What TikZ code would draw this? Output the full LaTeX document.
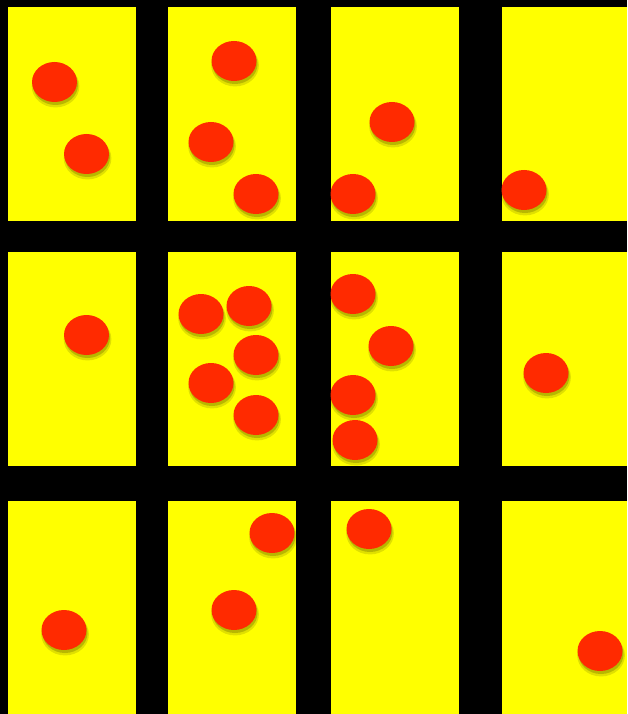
\documentclass[tikz,border=0pt]{standalone}
\usepackage{tikz}
\usetikzlibrary{shapes.geometric,shadows}
\definecolor{cardyellow}{RGB}{255,255,0}
\definecolor{ballred}{RGB}{255,42,0}

\begin{document}
\begin{tikzpicture}[x=1pt,y=-1pt,
    card/.style={fill=cardyellow},
    ball/.style={ellipse, fill=ballred, minimum width=45pt, minimum height=40pt, inner sep=0pt,
        general shadow={shadow xshift=1pt, shadow yshift=-4pt, shadow scale=1.06, opacity=0.12, fill=black},
        general shadow={shadow xshift=1pt, shadow yshift=-3pt, opacity=0.18, fill=black}}]
    % Background
    \fill[black] (0,0) rectangle (627,714);
    \useasboundingbox (0,0) rectangle (627,714);

    % Cards, top row
    \fill[card] (8,7) rectangle (136,221);
    \fill[card] (168,7) rectangle (296,221);
    \fill[card] (331,7) rectangle (459,221);
    \fill[card] (502,7) rectangle (627,221);

    % Cards, middle row
    \fill[card] (8,252) rectangle (136,466);
    \fill[card] (168,252) rectangle (296,466);
    \fill[card] (331,252) rectangle (459,466);
    \fill[card] (502,252) rectangle (627,466);

    % Cards, bottom row
    \fill[card] (8,501) rectangle (136,714);
    \fill[card] (168,501) rectangle (296,714);
    \fill[card] (331,501) rectangle (459,714);
    \fill[card] (502,501) rectangle (627,714);

    % Balls, top row
    \node[ball] (a1) at (54.5,82) {};
    \node[ball] (a2) at (86.5,154) {};
    \node[ball] (b1) at (234,61) {};
    \node[ball] (b2) at (211,142) {};
    \node[ball] (b3) at (256,194) {};
    \node[ball] (c1) at (392,122) {};
    \node[ball] (c2) at (353,194) {};
    \node[ball] (d1) at (524,190) {};

    % Balls, middle row
    \node[ball] (e1) at (86.5,335) {};
    \node[ball] (f1) at (201,314) {};
    \node[ball] (f2) at (249,306) {};
    \node[ball] (f3) at (256,355) {};
    \node[ball] (f4) at (211,383) {};
    \node[ball] (f5) at (256,415) {};
    \node[ball] (g1) at (353,294) {};
    \node[ball] (g2) at (391,346) {};
    \node[ball] (g3) at (353,395) {};
    \node[ball] (g4) at (355,440) {};
    \node[ball] (h1) at (546,373) {};

    % Balls, bottom row
    \node[ball] (i1) at (64,630) {};
    \node[ball] (j1) at (272,533) {};
    \node[ball] (j2) at (234,610) {};
    \node[ball] (k1) at (369,529) {};
    \node[ball] (l1) at (600,651) {};
\end{tikzpicture}
\end{document}
